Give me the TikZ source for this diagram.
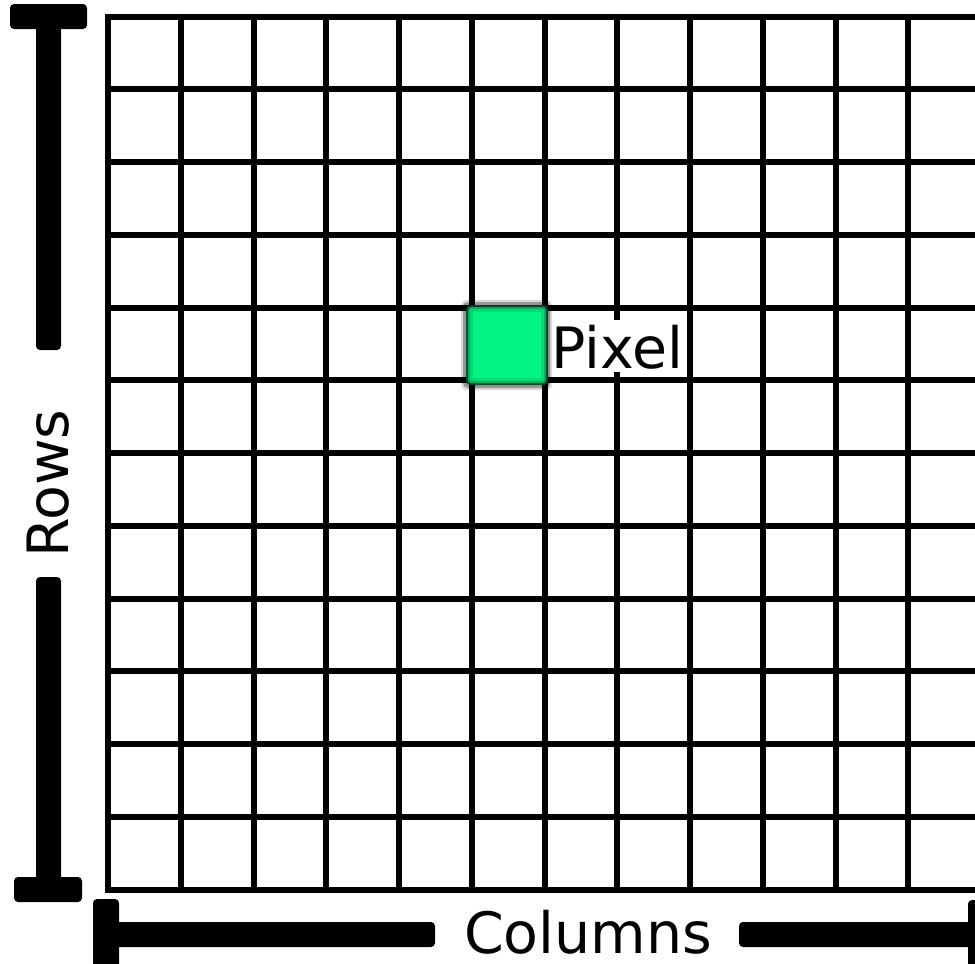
\documentclass[tikz,border=0pt]{standalone}
\usepackage{fontspec}
\setmainfont{DejaVu Sans}
\begin{document}
\begin{tikzpicture}[x=1pt,y=-1pt,
  gridline/.style={line width=6pt,black},
  bar/.style={fill=black,rounded corners=4pt},
  lbl/.style={font=\fontsize{57}{62}\selectfont,inner sep=0pt,text=black,text depth=0pt}]
\definecolor{pixgreen}{RGB}{0,245,130}
\definecolor{pixdark}{RGB}{10,70,40}
\useasboundingbox (0,0) rectangle (975,964);
\fill[white] (0,0) rectangle (975,964);
% grid
\foreach \i in {0,...,11} {
  \draw[gridline] ({108+72.75*\i},13.5) -- ({108+72.75*\i},892.5);
}
\foreach \j in {0,...,12} {
  \draw[gridline] (105,{16.5+72.75*\j}) -- (985,{16.5+72.75*\j});
}
% pixel with blurred edge
\fill[black,opacity=0.15,rounded corners=6pt] (461,300) rectangle (552,390);
\fill[black,opacity=0.3,rounded corners=5pt] (463,302) rectangle (550,388);
\fill[pixdark,opacity=0.9,rounded corners=4pt] (466,305) rectangle (548,385);
\fill[pixgreen!60!pixdark,rounded corners=3pt] (468,307) rectangle (546,383);
\fill[pixgreen!85!pixdark,rounded corners=2pt] (470,309) rectangle (544,381);
\fill[pixgreen] (473,312) rectangle (541,378);
\coordinate (pix) at (507,344);
% label Pixel
\fill[white] (553,320) rectangle (685,372);
\node[lbl,anchor=base west] (pixlabel) at (551,368) {Pixel};
% Rows dimension bar
\fill[bar] (10,4) rectangle (87,29);
\fill[bar] (36,10) rectangle (61,350);
\fill[bar] (36,577) rectangle (61,895);
\fill[bar] (14,877) rectangle (82,902);
\node[lbl,anchor=base west,rotate=90] (rows) at (68,558) {Rows};
% Columns dimension bar
\fill[bar] (93,899) rectangle (119,975);
\fill[bar] (100,922) rectangle (435,947);
\fill[bar] (739,922) rectangle (990,947);
\fill[bar] (968,900) rectangle (995,975);
\node[lbl,anchor=base west] (cols) at (464,953) {Columns};
\end{tikzpicture}
\end{document}
